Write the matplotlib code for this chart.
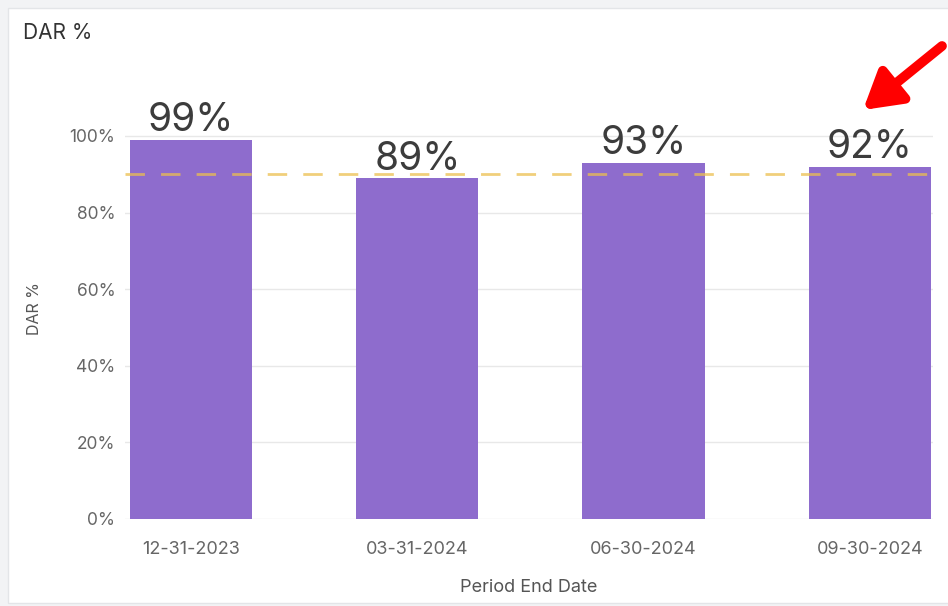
import matplotlib.pyplot as plt
from matplotlib.patches import Rectangle
from matplotlib.ticker import FuncFormatter

periods = ["12-31-2023", "03-31-2024", "06-30-2024", "09-30-2024"]
dar_values = [99, 89, 93, 92]
target = 90
y_ticks = [0, 20, 40, 60, 80, 100]

plt.rcParams['font.family'] = ['Inter', 'DejaVu Sans']

fig = plt.figure(figsize=(9.48, 6.06), dpi=100)
fig.patch.set_facecolor('#f2f3f5')

# white card behind the chart
card = Rectangle((8, 3), 945, 595, transform=None, facecolor='white',
                 edgecolor='#e3e5e8', linewidth=1, zorder=-10)
fig.add_artist(card)

ax = fig.add_axes([0.132, 0.1436, 0.852, 0.6952])
ax.set_facecolor('none')

x = range(len(periods))
bars = ax.bar(x, dar_values, width=0.54, color='#8e6ccd', zorder=2)
ax.axhline(target, color='#ecbf4f', linestyle=(0, (7, 5.8)), linewidth=2,
           alpha=0.75, zorder=3)

for xi, v in zip(x, dar_values):
    ax.annotate(f"{v}%", (xi, v), xytext=(0, 6), textcoords='offset points',
                ha='center', va='baseline', fontsize=28, color='#3c3c3c',
                annotation_clip=False)

ax.set_xlim(-0.292, 3.279)
ax.set_ylim(0, 110)
ax.set_yticks(y_ticks)
ax.yaxis.set_major_formatter(FuncFormatter(lambda v, p: f"{int(v)}%"))
ax.set_xticks(list(x))
ax.set_xticklabels(periods)
ax.tick_params(axis='y', length=0, labelsize=12.5, labelcolor='#666666', pad=7)
ax.tick_params(axis='x', length=0, labelsize=13, labelcolor='#666666', pad=16)
ax.grid(axis='y', color='#e8e8e8', linewidth=1, zorder=0)
for s in ax.spines.values():
    s.set_visible(False)

ax.set_ylabel("DAR %", fontsize=11.5, color='#555555', labelpad=20)
ax.set_xlabel("Period End Date", fontsize=13, color='#555555', labelpad=15)

fig.text(23 / 948, 1 - 33 / 606, "DAR %", fontsize=15, color='#333333',
         ha='left', va='center')

# red arrow pointing at the last label
ax.annotate("", xy=(863, 496), xycoords='figure pixels',
            xytext=(942, 560), textcoords='figure pixels',
            arrowprops=dict(arrowstyle='-|>,head_length=2.2,head_width=1.3',
                            color='red', lw=7, shrinkA=0, shrinkB=0))

fig.savefig("out.png", dpi=100, facecolor=fig.get_facecolor())
